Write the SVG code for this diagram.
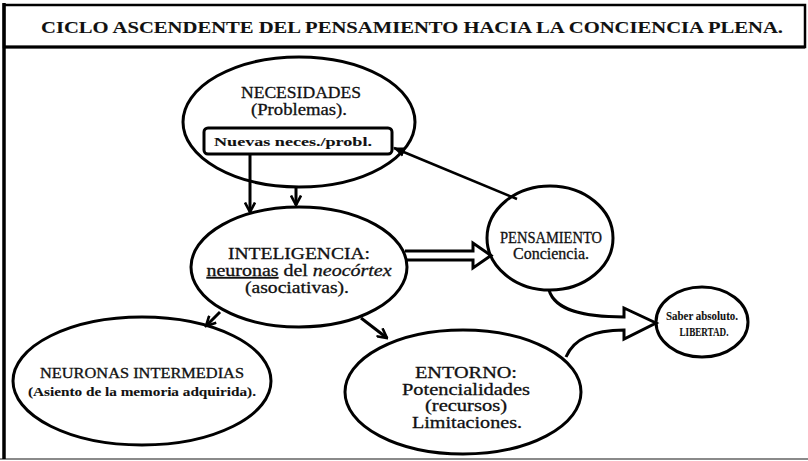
<svg xmlns="http://www.w3.org/2000/svg" width="808" height="461" viewBox="0 0 808 461">
  <style>
    .node { fill: #fff; stroke: #000; stroke-width: 3; }
    .t { font-family: "Liberation Serif", "Times New Roman", serif; fill: #111; stroke: #111; stroke-width: 0.3; text-anchor: middle; }
    .b { font-weight: bold; stroke-width: 0.1; }
    .conn { fill: none; stroke: #000; stroke-width: 3; }
    .thin { fill: none; stroke: #000; stroke-width: 2.5; }
    .frame { fill: none; stroke: #000; }
  </style>
  <defs>
    <marker id="vee" viewBox="0 0 12 12" refX="10.5" refY="6" markerWidth="12" markerHeight="12" markerUnits="userSpaceOnUse" orient="auto">
      <path d="M1,1 L10.5,6 L1,11" fill="none" stroke="#000" stroke-width="2.6" stroke-linejoin="miter"/>
    </marker>
    <marker id="tri" viewBox="0 0 12 10" refX="11" refY="5" markerWidth="12" markerHeight="10" markerUnits="userSpaceOnUse" orient="auto">
      <path d="M0,0 L12,5 L0,10 z" fill="#000"/>
    </marker>
  </defs>

  <rect width="808" height="461" fill="#fff"/>

  <g id="frame">
    <line x1="0" y1="459" x2="808" y2="459" stroke="#8a8a8a" stroke-width="2"/>
    <rect class="frame" x="4" y="5" width="801" height="42" stroke-width="2.5"/>
    <line x1="4" y1="47" x2="805" y2="47" stroke="#000" stroke-width="3"/>
    <line x1="4" y1="3" x2="4" y2="459" stroke="#000" stroke-width="3.5"/>
    <text class="t b" x="412" y="33" font-size="17" textLength="742" lengthAdjust="spacingAndGlyphs">CICLO ASCENDENTE DEL PENSAMIENTO HACIA LA CONCIENCIA PLENA.</text>
  </g>

  <g id="necesidades">
    <ellipse class="node" cx="299" cy="122" rx="116" ry="65"/>
    <text class="t" x="301" y="98" font-size="16" textLength="120" lengthAdjust="spacingAndGlyphs">NECESIDADES</text>
    <text class="t" x="299" y="115" font-size="16" textLength="96" lengthAdjust="spacingAndGlyphs">(Problemas).</text>
  </g>

  <g id="nuevas">
    <rect x="204" y="128" width="188" height="26" rx="4" fill="#fff" stroke="#000" stroke-width="3"/>
    <text class="t b" x="293" y="146" font-size="13.5" textLength="158" lengthAdjust="spacingAndGlyphs">Nuevas neces./probl.</text>
  </g>

  <g id="inteligencia">
    <ellipse class="node" cx="299" cy="267" rx="108" ry="60"/>
    <text class="t" x="299" y="259" font-size="16" textLength="142" lengthAdjust="spacingAndGlyphs">INTELIGENCIA:</text>
    <text class="t" x="299" y="276" font-size="16" textLength="185" lengthAdjust="spacingAndGlyphs"><tspan text-decoration="underline">neuronas</tspan> del <tspan font-style="italic">neocórtex</tspan></text>
    <text class="t" x="297" y="293" font-size="16" textLength="104" lengthAdjust="spacingAndGlyphs">(asociativas).</text>
  </g>

  <g id="pensamiento">
    <ellipse class="node" cx="550" cy="238" rx="63" ry="52"/>
    <text class="t" x="551" y="243" font-size="16" textLength="102" lengthAdjust="spacingAndGlyphs">PENSAMIENTO</text>
    <text class="t" x="551" y="259" font-size="16" textLength="76" lengthAdjust="spacingAndGlyphs">Conciencia.</text>
  </g>

  <g id="saber">
    <ellipse class="node" cx="702" cy="322" rx="46" ry="35"/>
    <text class="t b" x="702" y="320" font-size="13" textLength="72" lengthAdjust="spacingAndGlyphs">Saber  absoluto.</text>
    <text class="t b" x="704" y="336" font-size="13" textLength="49" lengthAdjust="spacingAndGlyphs">LIBERTAD.</text>
  </g>

  <g id="neuronas-intermedias">
    <ellipse class="node" cx="142" cy="381" rx="129" ry="64"/>
    <text class="t" x="142" y="378" font-size="14" textLength="204" lengthAdjust="spacingAndGlyphs">NEURONAS INTERMEDIAS</text>
    <text class="t b" x="142" y="396" font-size="13" textLength="228" lengthAdjust="spacingAndGlyphs">(Asiento de la memoria adquirida).</text>
  </g>

  <g id="entorno">
    <ellipse class="node" cx="463" cy="392" rx="118" ry="62"/>
    <text class="t" x="466" y="378" font-size="16" textLength="102" lengthAdjust="spacingAndGlyphs">ENTORNO:</text>
    <text class="t" x="466" y="395" font-size="16" textLength="128" lengthAdjust="spacingAndGlyphs">Potencialidades</text>
    <text class="t" x="466" y="411" font-size="16" textLength="82" lengthAdjust="spacingAndGlyphs">(recursos)</text>
    <text class="t" x="467" y="428" font-size="16" textLength="110" lengthAdjust="spacingAndGlyphs">Limitaciones.</text>
  </g>

  <g id="connectors">
    <line class="conn" x1="250" y1="154" x2="250" y2="212" marker-end="url(#vee)"/>
    <line class="conn" x1="296" y1="187" x2="296" y2="205" marker-end="url(#vee)"/>
    <line class="thin" x1="517" y1="199" x2="394" y2="148" marker-end="url(#tri)"/>
    <path class="conn" d="M405,251 L473,251 L473,243 L491,255.5 L473,268 L473,260 L405,260" stroke-linejoin="miter"/>
    <line class="conn" x1="220" y1="312" x2="206" y2="326" marker-end="url(#vee)"/>
    <line class="conn" x1="361" y1="318" x2="387" y2="338" marker-end="url(#vee)"/>
    <path class="conn" d="M549,290 C555,311 585,317 624,317 L624,308 L656,323 L624,339 L624,330 C596,330 574,338 566,357" stroke-linejoin="miter"/>
  </g>
</svg>
